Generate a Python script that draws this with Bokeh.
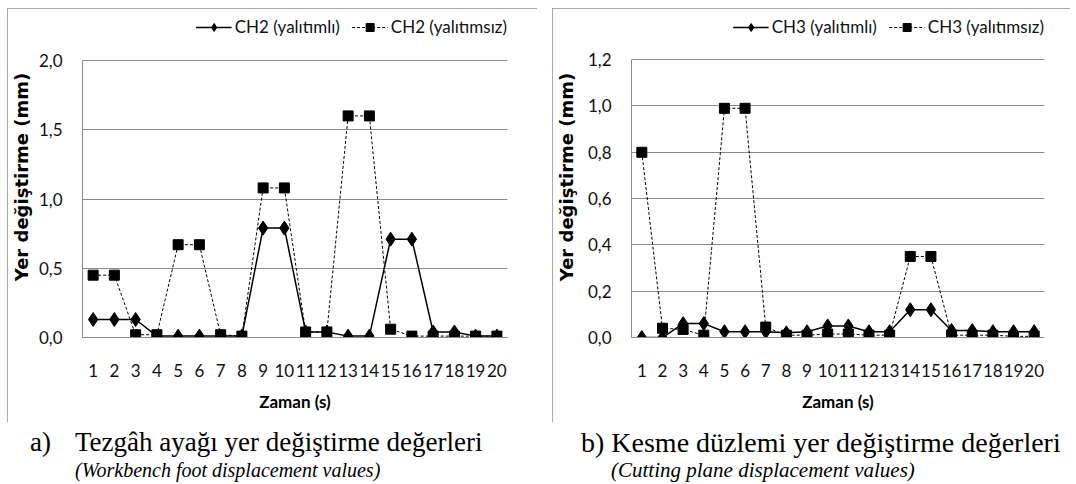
from bokeh.plotting import figure
from bokeh.models import (FactorRange, Range1d, FixedTicker, CustomJSTickFormatter,
                          Legend, LegendItem, Div)
from bokeh.layouts import row, column
from bokeh.embed import file_html
from bokeh.resources import INLINE

# ---------------- data ----------------
zaman = ["1", "2", "3", "4", "5", "6", "7", "8", "9", "10",
         "11", "12", "13", "14", "15", "16", "17", "18", "19", "20"]

ch2_yalitimli = [0.13, 0.13, 0.13, 0.01, 0.01, 0.01, 0.01, 0.01, 0.79, 0.79,
                 0.04, 0.04, 0.01, 0.01, 0.71, 0.71, 0.04, 0.04, 0.01, 0.01]
ch2_yalitimsiz = [0.45, 0.45, 0.02, 0.02, 0.67, 0.67, 0.02, 0.01, 1.08, 1.08,
                  0.04, 0.04, 1.60, 1.60, 0.06, 0.01, 0.01, 0.01, 0.01, 0.01]

ch3_yalitimli = [0.00, 0.00, 0.06, 0.06, 0.025, 0.025, 0.025, 0.02, 0.025, 0.05,
                 0.05, 0.025, 0.025, 0.12, 0.12, 0.03, 0.03, 0.025, 0.025, 0.025]
ch3_yalitimsiz = [0.80, 0.04, 0.035, 0.01, 0.99, 0.99, 0.045, 0.01, 0.01, 0.015,
                  0.015, 0.01, 0.01, 0.35, 0.35, 0.01, 0.01, 0.01, 0.005, 0.005]

left_yticks = [0.0, 0.5, 1.0, 1.5, 2.0]
right_yticks = [0.0, 0.2, 0.4, 0.6, 0.8, 1.0, 1.2]

left_names = ["CH2 (yalıtımlı)", "CH2 (yalıtımsız)"]
right_names = ["CH3 (yalıtımlı)", "CH3 (yalıtımsız)"]

x_title = "Zaman (s)"
y_title = "Yer değiştirme (mm)"

left_caption = ["a)", "Tezgâh ayağı yer değiştirme değerleri", "(Workbench foot displacement values)"]
right_caption = ["b) Kesme düzlemi yer değiştirme değerleri", "(Cutting plane displacement values)"]

# ---------------- style ----------------
FONT = "Lato"
GRID = "#8a8a8a"
CHART_H = 414
TOP = 8          # frame starts here (legend sits inside the top of the frame)
PLOT_TOP = 52    # canvas y of the top gridline


def make_chart(s1, s2, names, yticks, width, mb_left, frame_w, frame_bottom,
               ylabel_standoff):
    mb_right = width - mb_left - frame_w
    ymax = yticks[-1]
    # extend the range above the top tick so the legend fits inside the frame
    px_per_unit = (frame_bottom - PLOT_TOP) / ymax
    y_end = ymax + (PLOT_TOP - TOP) / px_per_unit
    p = figure(x_range=FactorRange(*zaman), y_range=Range1d(0, y_end),
               width=width, height=CHART_H,
               min_border_left=mb_left, min_border_right=mb_right,
               min_border_top=TOP, min_border_bottom=CHART_H - frame_bottom,
               output_backend="svg", toolbar_location=None, tools="")
    p.styles = {"outline": "1.5px solid #8c8c8c", "outline-offset": "-1.5px"}
    p.outline_line_color = None
    p.background_fill_color = "white"
    p.border_fill_color = "white"
    p.xgrid.grid_line_color = None
    p.ygrid.grid_line_color = GRID
    p.ygrid.grid_line_width = 1
    p.yaxis.ticker = FixedTicker(ticks=yticks)
    p.yaxis.bounds = (0, ymax)
    p.yaxis.formatter = CustomJSTickFormatter(code="return tick.toFixed(1).replace('.', ',');")

    for ax in (p.xaxis, p.yaxis):
        ax.axis_line_color = GRID
        ax.axis_line_width = 1
        ax.major_tick_line_color = None
        ax.minor_tick_line_color = None
        ax.major_label_text_font = FONT
        ax.major_label_text_font_size = "17px"
        ax.major_label_text_color = "#111111"
        ax.axis_label_text_color = "#000000"
        ax.axis_label_text_font_style = "bold"
    p.yaxis.major_label_standoff = 14
    p.xaxis.major_label_standoff = 20
    p.x_range.range_padding = 0
    p.x_range.factor_padding = 0

    p.yaxis.axis_label = y_title
    p.yaxis.axis_label_text_font = "DejaVu Sans"
    p.yaxis.axis_label_text_font_size = "18px"
    p.yaxis.axis_label_standoff = ylabel_standoff
    p.xaxis.axis_label = x_title
    p.xaxis.axis_label_text_font = FONT
    p.xaxis.axis_label_text_font_size = "17px"
    p.xaxis.axis_label_standoff = 11

    l1 = p.line(zaman, s1, line_color="black", line_width=1.5)
    m1 = p.scatter(zaman, s1, marker="diamond", size=14, fill_color="black", line_color="black")
    l2 = p.line(zaman, s2, line_color="black", line_width=1, line_dash="3 2")
    m2 = p.scatter(zaman, s2, marker="square", size=10, fill_color="black", line_color="black")

    legend = Legend(items=[LegendItem(label=names[0], renderers=[l1, m1]),
                           LegendItem(label=names[1], renderers=[l2, m2])],
                    location="top_right", orientation="horizontal",
                    background_fill_alpha=0, border_line_color=None,
                    padding=5, margin=0, spacing=12, label_standoff=3,
                    glyph_width=36, glyph_height=20, label_height=20,
                    label_text_font=FONT, label_text_font_size="17px",
                    label_text_color="#111111")
    p.add_layout(legend, "center")
    return p


p1 = make_chart(ch2_yalitimli, ch2_yalitimsiz, left_names, left_yticks,
                530, 70, 430, 329, 4)
p2 = make_chart(ch3_yalitimli, ch3_yalitimsiz, right_names, right_yticks,
                518, 74, 418, 335, 8)

SERIF = "'Liberation Serif', 'Times New Roman', serif"


def caption_div(width, lines):
    spans = "".join(
        '<span style="position:absolute;left:%dpx;top:%dpx;font-size:%dpx;line-height:%dpx;'
        'font-style:%s;white-space:nowrap">%s</span>' % (x, y, fs, fs, st, t)
        for (x, y, fs, st, t) in lines)
    html = ('<div style="position:relative;width:%dpx;height:54px;font-family:%s;color:black">%s</div>'
            % (width, SERIF, spans))
    return Div(text=html, width=width, height=54)


d1 = caption_div(530, [(18, 2, 27, "normal", left_caption[0]),
                       (63, 2, 27, "normal", left_caption[1]),
                       (63, 33, 20, "italic", left_caption[2])])
d2 = caption_div(518, [(14, 2, 28, "normal", right_caption[0]),
                       (44, 33, 21, "italic", right_caption[1])])

layout = column(row(p1, p2, spacing=15), row(d1, d2, spacing=15), spacing=0)
layout.margin = (8, 0, 0, 7)
open("out.html", "w").write(file_html(layout, INLINE))
